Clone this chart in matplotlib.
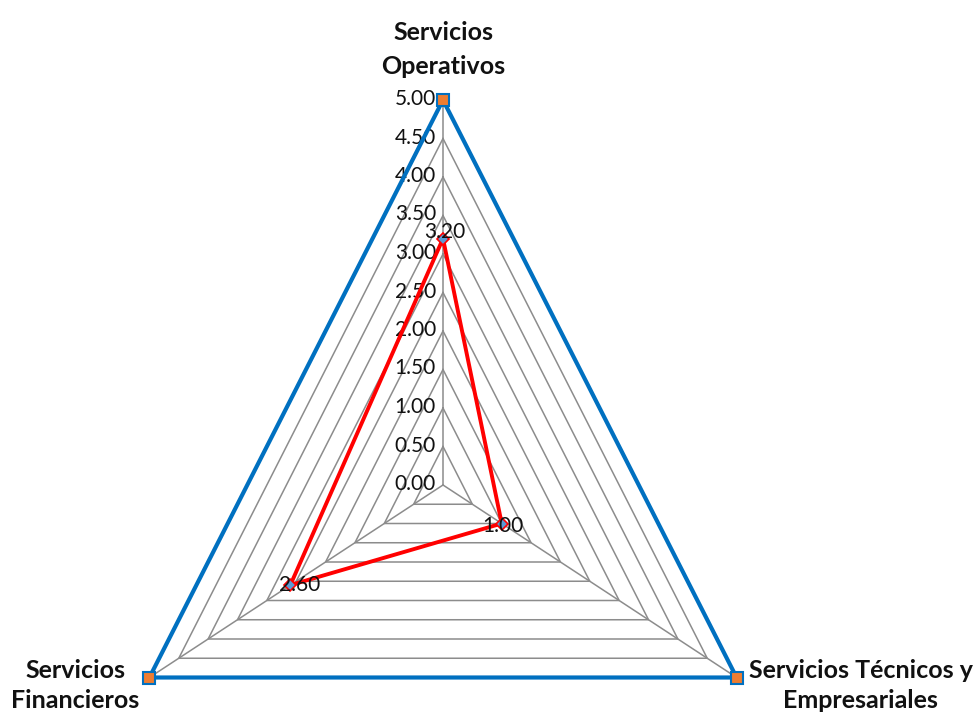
import numpy as np
import matplotlib
matplotlib.use("Agg")
import matplotlib.pyplot as plt

plt.rcParams['font.family'] = ['Lato', 'DejaVu Sans']

# data
categories = ["Servicios\nOperativos", "Servicios Técnicos y\nEmpresariales", "Servicios\nFinancieros"]
max_values = [5.0, 5.0, 5.0]
actual_values = [3.2, 1.0, 2.6]
tick_values = [0.0, 0.5, 1.0, 1.5, 2.0, 2.5, 3.0, 3.5, 4.0, 4.5, 5.0]

# axis angles (top, bottom right, bottom left)
angles = np.deg2rad([90, -30, 210])

def to_xy(vals):
    vals = np.asarray(vals, dtype=float)
    return vals * np.cos(angles), vals * np.sin(angles)

fig = plt.figure(figsize=(9.74, 7.15), dpi=100)
ax = fig.add_axes([0, 0, 1, 1])
ax.set_xlim(-443 / 67.8, (974 - 443) / 67.8)
ax.set_ylim(-(715 - 485) / 77.0, 485 / 77.0)
ax.axis('off')

# grid rings and spokes
for t in tick_values[1:]:
    gx, gy = to_xy([t, t, t])
    ax.plot(np.append(gx, gx[0]), np.append(gy, gy[0]), color='#8c8c8c', lw=1.1, zorder=1)
sx, sy = to_xy(max_values)
for i in range(3):
    ax.plot([0, sx[i]], [0, sy[i]], color='#8c8c8c', lw=1.1, zorder=1)

# tick labels on the vertical spoke
for t in tick_values:
    ax.annotate(f"{t:.2f}", xy=(0, t), xytext=(-7, 1), textcoords='offset pixels',
                ha='right', va='center', fontsize=15, color='#111111')

# max series
mx, my = to_xy(max_values)
ax.plot(np.append(mx, mx[0]), np.append(my, my[0]), color='#0070C0', lw=3,
        zorder=3, solid_joinstyle='miter')
ax.plot(mx, my, ls='none', marker='s', ms=9, mfc='#ED7D31', mec='#0070C0',
        mew=1.5, zorder=5)

# actual series
axx, ayy = to_xy(actual_values)
ax.plot(np.append(axx, axx[0]), np.append(ayy, ayy[0]), color='#FF0000', lw=2.8,
        zorder=4, solid_joinstyle='miter')
ax.plot(axx, ayy, ls='none', marker='D', ms=6, mfc='#5B9BD5', mec='#FF0000',
        mew=1.2, zorder=5)
label_off = [(2, 7), (1, -3), (9, 0)]
for i, v in enumerate(actual_values):
    ax.annotate(f"{v:.2f}", xy=(axx[i], ayy[i]), xytext=label_off[i],
                textcoords='offset pixels', ha='center', va='center',
                fontsize=15, color='#111111', zorder=6)

# category labels
cat_off = [(0, 22), (12, -8), (-10, -8)]
cat_ha = ['center', 'left', 'right']
cat_va = ['bottom', 'center', 'center']
cat_ls = [1.6, 1.4, 1.4]
for i, c in enumerate(categories):
    ax.annotate(c, xy=(sx[i], sy[i]), xytext=cat_off[i], textcoords='offset pixels',
                ha=cat_ha[i], va=cat_va[i], multialignment='center',
                fontsize=18, fontweight='bold', linespacing=cat_ls[i], color='#111111')

fig.savefig("out.png", dpi=100)
